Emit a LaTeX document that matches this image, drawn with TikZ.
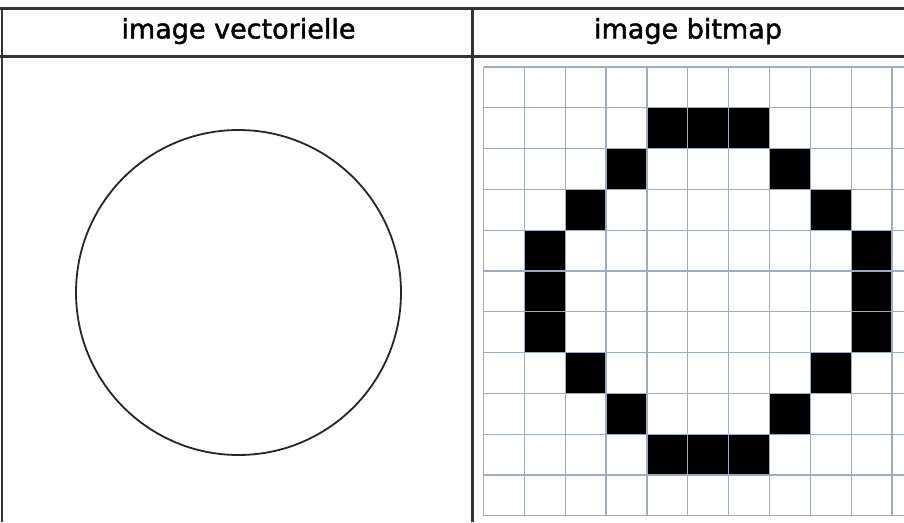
\documentclass[tikz,border=0pt]{standalone}
\usepackage{fontspec}
\setmainfont{DejaVu Sans}
\newfontfamily\headfont[FakeBold=1.6]{DejaVu Sans}
\definecolor{frame}{HTML}{333333}
\definecolor{gridc}{HTML}{9EABC0}
\begin{document}
\begin{tikzpicture}[x=1pt,y=-1pt,
  frameline/.style={draw=frame,line width=2.4pt},
  gridline/.style={draw=gridc,line width=1.2pt},
  pixel/.style={fill=black},
  header/.style={anchor=base,inner sep=0pt,font=\headfont\fontsize{27}{30}\selectfont}]
\useasboundingbox[fill=white] (0,0) rectangle (904,522);
% frame
\draw[frameline] (0,8.5) -- (904,8.5);
\draw[frameline] (0,56.5) -- (904,56.5);
\draw[frameline] (2.2,7.3) -- (2.2,522);
\draw[frameline] (472.5,7.3) -- (472.5,522);
% headers
\node[header] (hv) at (238.5,38.5) {image vectorielle};
\node[header] (hb) at (688,38.5) {image bitmap};
% vector circle
\node[draw=black!85,line width=1.8pt,circle,minimum size=325pt,inner sep=0pt] (circ) at (238.5,292.5) {};
% bitmap grid
\def\gx{483.5}\def\gy{67}\def\cw{40.85}\def\ch{40.8}
\foreach \c/\r in {4/1,5/1,6/1,3/2,7/2,2/3,8/3,1/4,9/4,1/5,9/5,1/6,9/6,2/7,8/7,3/8,7/8,4/9,5/9,6/9}
  \fill[pixel] (\gx+\c*\cw,\gy+\r*\ch) rectangle ++(\cw,\ch);
\foreach \i in {0,...,10}
  \draw[gridline] (\gx+\i*\cw,\gy) -- (\gx+\i*\cw,\gy+11*\ch);
\foreach \j in {0,...,11}
  \draw[gridline] (\gx,\gy+\j*\ch) -- (904,\gy+\j*\ch);
\end{tikzpicture}
\end{document}
